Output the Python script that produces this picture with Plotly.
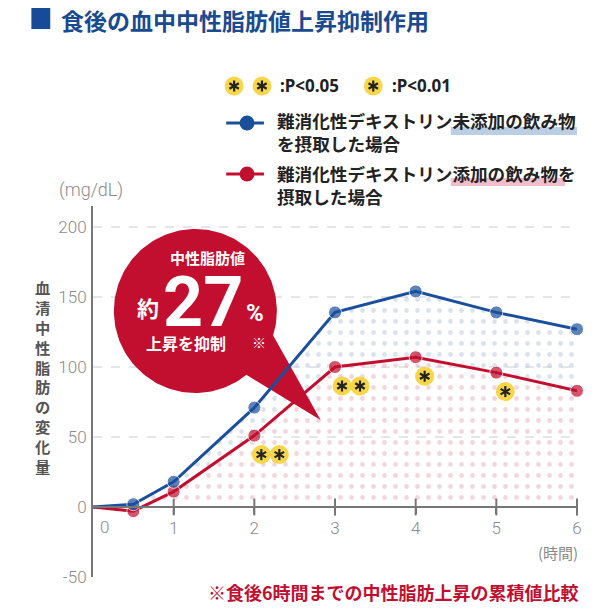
import numpy as np
import plotly.graph_objects as go

# ---------------- data ----------------
hours = [0, 0.5, 1, 2, 3, 4, 5, 6]
without_dextrin = [0, 2, 18, 71, 139, 154, 139, 127]   # 未添加
with_dextrin = [0, -3, 11, 51, 100, 107, 96, 83]       # 添加
sig_hours = [2, 3, 4, 5]
sig_counts = [2, 2, 1, 1]
x_ticks = [1, 2, 3, 4, 5, 6]
y_ticks = [-50, 0, 50, 100, 150, 200]
y_tick_text = ["-50", "0", "50", "100", "150", "200"]
grid_vals = [50, 100, 150, 200]

title_text = "食後の血中中性脂肪値上昇抑制作用"
legend_blue = ["難消化性デキストリン未添加の飲み物", "を摂取した場合"]
legend_red = ["難消化性デキストリン添加の飲み物を", "摂取した場合"]
y_title = "血清中性脂肪の変化量"
footnote = "※食後6時間までの中性脂肪上昇の累積値比較"

# ---------------- style ----------------
BLUE = "#1a4f9c"
RED = "#c20f2f"
YELLOW = "#f7d64a"
GRAY = "#8a8a8a"
AXIS = "#777"
JP = "Noto Sans CJK JP"
NUM = "Roboto"

W_FIG, H_FIG = 594, 608
L, T, W, H = 93, 206, 487, 371   # plot area in window pixels
XR = (0, 6)
YR = (-50, 215)


def px(x):  # window pixel -> paper x
    return (x - L) / W


def py(y):  # window pixel -> paper y
    return (T + H - y) / H


def dx(x):  # window pixel -> data x
    return XR[0] + (x - L) / W * (XR[1] - XR[0])


def dy(y):  # window pixel -> data y
    return YR[1] - (y - T) / H * (YR[1] - YR[0])


fig = go.Figure()

# pattern fills
fig.add_trace(go.Scatter(
    x=hours, y=with_dextrin, mode="none", fill="tozeroy", fillcolor="rgba(0,0,0,0)",
    fillpattern=dict(shape=".", fgcolor="#e6adbb", bgcolor="rgba(255,255,255,0)", size=11, solidity=0.15),
    hoverinfo="skip", showlegend=False))
fig.add_trace(go.Scatter(
    x=hours, y=without_dextrin, mode="none", fill="tonexty", fillcolor="rgba(0,0,0,0)",
    fillpattern=dict(shape=".", fgcolor="#b3c5dc", bgcolor="rgba(255,255,255,0)", size=11, solidity=0.15),
    hoverinfo="skip", showlegend=False))

# callout bubble (decoration), drawn between fills and lines
cx, cy, r = 196, 311, 82
th = np.linspace(0, 2 * np.pi, 181)
fig.add_trace(go.Scatter(
    x=[dx(cx + r * np.cos(t)) for t in th], y=[dy(cy + r * np.sin(t)) for t in th],
    mode="lines", fill="toself", fillcolor=RED, line=dict(width=0, color=RED),
    hoverinfo="skip", showlegend=False))
tail = [(246, 374), (274, 335), (322, 420), (246, 374)]
fig.add_trace(go.Scatter(
    x=[dx(p[0]) for p in tail], y=[dy(p[1]) for p in tail],
    mode="lines", fill="toself", fillcolor=RED, line=dict(width=0, color=RED),
    hoverinfo="skip", showlegend=False))

# tick marks crossing the time axis
fig.add_trace(go.Scatter(
    x=x_ticks, y=[0] * len(x_ticks), mode="markers", cliponaxis=False, hoverinfo="skip",
    marker=dict(symbol="line-ns", size=12, line=dict(color=AXIS, width=2)), showlegend=False))

sizes = [0] + [13] * (len(hours) - 1)
fig.add_trace(go.Scatter(
    x=hours, y=with_dextrin, mode="lines+markers", line=dict(color=RED, width=3),
    marker=dict(color=RED, size=sizes), cliponaxis=False, showlegend=False))
fig.add_trace(go.Scatter(
    x=hours, y=without_dextrin, mode="lines+markers", line=dict(color=BLUE, width=3),
    marker=dict(color=BLUE, size=sizes), cliponaxis=False, showlegend=False))

shapes = []
annos = []

# gridlines
for v in grid_vals:
    shapes.append(dict(type="line", xref="paper", yref="y", x0=0, x1=1, y0=v, y1=v,
                       line=dict(color="#c9ccd3", width=1, dash="dash"), layer="below"))

ARM = 5.5
ANG = [np.pi / 2, np.pi / 6, 5 * np.pi / 6]

# significance badges in the plot
for h, n in zip(sig_hours, sig_counts):
    yv = with_dextrin[hours.index(h)]
    offs = [7, 25] if n == 2 else [9]
    for o in offs:
        shapes.append(dict(type="circle", xref="x", yref="y", xsizemode="pixel", ysizemode="pixel",
                           xanchor=h, yanchor=yv, x0=o - 9.5, x1=o + 9.5, y0=-19 - 9.5, y1=-19 + 9.5,
                           fillcolor=YELLOW, line=dict(width=0), layer="above"))
        for a in ANG:
            shapes.append(dict(type="line", xref="x", yref="y", xsizemode="pixel", ysizemode="pixel",
                               xanchor=h, yanchor=yv,
                               x0=o - ARM * np.cos(a), x1=o + ARM * np.cos(a),
                               y0=-19 - ARM * np.sin(a), y1=-19 + ARM * np.sin(a),
                               line=dict(color="#222", width=2.2), layer="above"))

# title
shapes.append(dict(type="rect", xref="paper", yref="paper", x0=px(31), x1=px(50), y0=py(29), y1=py(8),
                   fillcolor="#174b9a", line=dict(width=0)))
annos.append(dict(x=px(59), y=py(20), xref="paper", yref="paper", xanchor="left", yanchor="middle",
                  text="<b>" + title_text + "</b>", showarrow=False,
                  font=dict(family=JP, size=23, color="#1a4a8f")))

# significance legend
for bx in [235, 263, 375]:
    shapes.append(dict(type="circle", xref="paper", yref="paper", x0=px(bx - 9.5), x1=px(bx + 9.5),
                       y0=py(86 + 9.5), y1=py(86 - 9.5), fillcolor=YELLOW, line=dict(width=0)))
    for a in ANG:
        shapes.append(dict(type="line", xref="paper", yref="paper",
                           x0=px(bx - ARM * np.cos(a)), x1=px(bx + ARM * np.cos(a)),
                           y0=py(86 - ARM * np.sin(a)), y1=py(86 + ARM * np.sin(a)),
                           line=dict(color="#222", width=2.2)))
for tx, t in [(279, ":P<0.05"), (392, ":P<0.01")]:
    annos.append(dict(x=px(tx), y=py(86), xref="paper", yref="paper", xanchor="left", yanchor="middle",
                      text="<b>" + t + "</b>", showarrow=False, font=dict(family="Noto Sans", size=17, color="#222")))

# series legend
for ly, col, lines, hl, shift in [(123, BLUE, legend_blue, (453, 580, "#bccee3"), 9.5),
                                  (174, RED, legend_red, (453, 568, "#f2bdcb"), 11.0)]:
    shapes.append(dict(type="rect", xref="paper", yref="paper", x0=px(hl[0]), x1=px(hl[1]),
                       y0=py(ly + 12), y1=py(ly + 4), fillcolor=hl[2], line=dict(width=0)))
    shapes.append(dict(type="line", xref="paper", yref="paper", x0=px(227), x1=px(265), y0=py(ly), y1=py(ly),
                       line=dict(color=col, width=3)))
    shapes.append(dict(type="circle", xref="paper", yref="paper", x0=px(248 - 7.5), x1=px(248 + 7.5),
                       y0=py(ly + 7.5), y1=py(ly - 7.5), fillcolor=col, line=dict(width=0)))
    annos.append(dict(x=px(276), y=py(ly + shift), xref="paper", yref="paper", xanchor="left",
                      yanchor="middle", align="left", text="<b>" + "<br>".join(lines) + "</b>",
                      showarrow=False, font=dict(family=JP, size=17.6, color="#222")))

# callout texts
W_ = "white"
callout = [
    dict(x=px(208), y=py(257), text="<b>中性脂肪値</b>", font=dict(family=JP, size=15, color=W_)),
    dict(x=px(148), y=py(307), text="<b>約</b>", font=dict(family=JP, size=22, color=W_)),
    dict(x=px(204), y=py(302), text="<b>27</b>", font=dict(family=NUM, size=70, color=W_)),
    dict(x=px(256), y=py(313), text="<b>%</b>", font=dict(family=NUM, size=24, color=W_)),
    dict(x=px(187), y=py(343), text="<b>上昇を抑制</b>", font=dict(family=JP, size=16, color=W_)),
    dict(x=px(260), y=py(342), text="※", font=dict(family=JP, size=14, color=W_)),
]
for a in callout:
    a.update(xref="paper", yref="paper", showarrow=False, xanchor="center", yanchor="middle")
annos += callout

# axis texts
annos += [
    dict(x=px(42), y=py(376), xref="paper", yref="paper", xanchor="center", yanchor="middle",
         text="<b>" + "<br>".join(y_title) + "</b>",
         showarrow=False, font=dict(family=JP, size=15.3, color="#555")),
    dict(x=px(57), y=py(190), xref="paper", yref="paper", xanchor="left", yanchor="middle", text="(mg/dL)",
         showarrow=False, font=dict(family=NUM, size=18, color=GRAY, weight=300)),
    dict(x=0, y=0, xref="x", yref="y", xanchor="center", yanchor="middle", xshift=11, yshift=-20, text="0",
         showarrow=False, font=dict(family=NUM, size=17, color=GRAY, weight=300)),
    dict(x=px(583), y=py(552), xref="paper", yref="paper", xanchor="right", yanchor="middle", text="(時間)",
         showarrow=False, font=dict(family=JP, size=15, color=GRAY)),
    dict(x=px(584), y=py(592), xref="paper", yref="paper", xanchor="right", yanchor="middle",
         text="<b>" + footnote + "</b>",
         showarrow=False, font=dict(family=JP, size=18, color=RED)),
]

fig.update_layout(
    width=W_FIG, height=H_FIG,
    margin=dict(l=L, r=W_FIG - L - W, t=T, b=H_FIG - T - H),
    paper_bgcolor="white", plot_bgcolor="white", showlegend=False,
    shapes=shapes, annotations=annos,
    xaxis=dict(range=list(XR), tickvals=x_ticks, showgrid=False, zeroline=False, showline=True,
               linecolor=AXIS, linewidth=2, ticks="outside", ticklen=6, tickwidth=2, tickcolor=AXIS,
               anchor="free", position=(0 - YR[0]) / (YR[1] - YR[0]),
               tickfont=dict(family=NUM, size=17, color=GRAY, weight=300), fixedrange=True),
    yaxis=dict(range=list(YR), tickvals=y_ticks, ticktext=y_tick_text, showgrid=False, zeroline=False,
               showline=True, linecolor=AXIS, linewidth=2, ticks="outside", ticklen=1,
               tickcolor="rgba(0,0,0,0)", tickfont=dict(family=NUM, size=17, color=GRAY, weight=300),
               fixedrange=True),
)

fig.write_html("out.html", config={"displayModeBar": False},
               post_script="document.body.style.margin='0';")
